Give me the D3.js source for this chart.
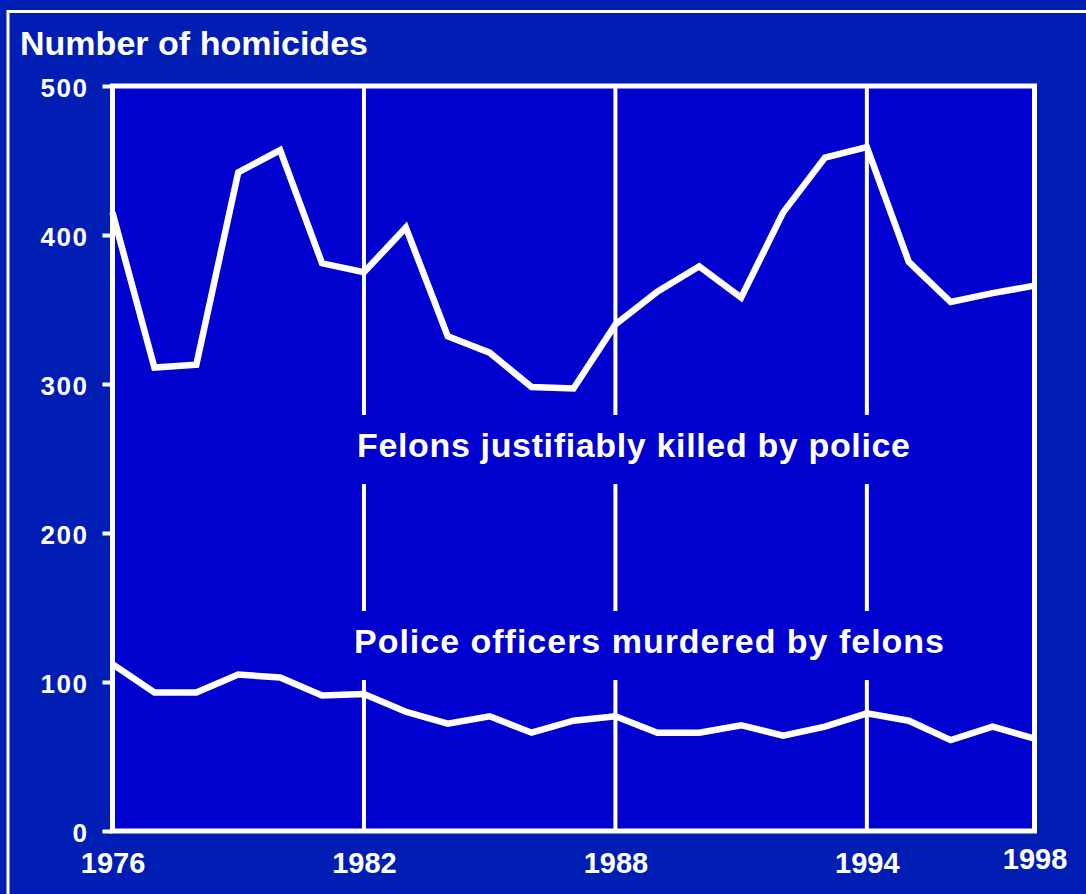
<!DOCTYPE html>
<html>
<head>
<meta charset="utf-8">
<script src="https://cdn.jsdelivr.net/npm/d3@7"></script>
<style>
  html, body { margin: 0; padding: 0; background: #001EB4; overflow: hidden; }
  svg { display: block; }
  text { font-family: "Liberation Sans", Arial, sans-serif; font-weight: bold; fill: #fff; }
</style>
</head>
<body>
<svg id="chart" width="1086" height="894"></svg>
<script>
var years = d3.range(1976, 1999);
var felonsKilled = [415, 311, 313, 442, 457, 381, 375, 405, 332, 321, 298, 297,
                    340, 362, 379, 358, 415, 452, 459, 382, 355, 361, 366];
var officersMurdered = [112, 93, 93, 105, 103, 91, 92, 80, 72, 77, 66, 74,
                        77, 66, 66, 71, 64, 70, 79, 74, 61, 70, 62];
var yearTicks = [1976, 1982, 1988, 1994, 1998];
var gridYears = [1982, 1988, 1994];
var valueTicks = [0, 100, 200, 300, 400, 500];
var seriesLabels = ["Felons justifiably killed by police", "Police officers murdered by felons"];

var outerBlue = "#001EB4", innerBlue = "#0000CF";

var svg = d3.select("#chart");

// outer white frame (runs off the right / bottom edge)
svg.append("rect")
	.attr("x", 8).attr("y", 11.5)
	.attr("width", 1200).attr("height", 1000)
	.attr("fill", "none").attr("stroke", "#fff").attr("stroke-width", 3);

svg.append("text")
	.attr("x", 20).attr("y", 55)
	.attr("textLength", 348)
	.attr("lengthAdjust", "spacing")
	.style("font-size", "34px")
	.text("Number of homicides");

var x = d3.scaleLinear().domain([1976, 1998]).range([112.5, 1034.5]);
var y = d3.scaleLinear().domain([0, 500]).range([831, 86]);

// plot area
svg.append("rect")
	.attr("x", x(1976)).attr("y", y(500))
	.attr("width", x(1998) - x(1976)).attr("height", y(0) - y(500))
	.attr("fill", innerBlue);

// vertical grid lines
svg.append("g").selectAll("line")
	.data(gridYears).enter().append("line")
	.attr("x1", function (d) { return x(d); })
	.attr("x2", function (d) { return x(d); })
	.attr("y1", y(500)).attr("y2", y(0))
	.attr("stroke", "#fff").attr("stroke-width", 4);

// series labels with a blue box that cuts the grid lines
var labelPos = [{ x: 357, y: 457, w: 553 }, { x: 354, y: 653, w: 590 }];
var labels = svg.append("g").selectAll("g")
	.data(seriesLabels).enter().append("g");
labels.append("rect")
	.attr("x", function (d, i) { return labelPos[i].x - 6; })
	.attr("y", function (d, i) { return labelPos[i].y - 42; })
	.attr("width", function (d, i) { return labelPos[i].w + 12; })
	.attr("height", 69)
	.attr("fill", innerBlue);
labels.append("text")
	.attr("x", function (d, i) { return labelPos[i].x; })
	.attr("y", function (d, i) { return labelPos[i].y; })
	.attr("textLength", function (d, i) { return labelPos[i].w; })
	.attr("lengthAdjust", "spacing")
	.style("font-size", "34px")
	.text(function (d) { return d; });

// data lines
var line = d3.line()
	.x(function (d) { return x(d[0]); })
	.y(function (d) { return y(d[1]); });

[felonsKilled, officersMurdered].forEach(function (series) {
	svg.append("path")
		.datum(d3.zip(years, series))
		.attr("d", line)
		.attr("fill", "none")
		.attr("stroke", "#fff")
		.attr("stroke-width", 6.5)
		.attr("stroke-linejoin", "miter");
});

// plot frame
svg.append("rect")
	.attr("x", x(1976)).attr("y", y(500))
	.attr("width", x(1998) - x(1976)).attr("height", y(0) - y(500))
	.attr("fill", "none").attr("stroke", "#fff").attr("stroke-width", 5);

// y axis
var yAxis = svg.append("g")
	.attr("transform", "translate(" + x(1976) + ",0)")
	.call(d3.axisLeft(y).tickValues(valueTicks).tickSize(10).tickPadding(14));
yAxis.select(".domain").remove();
yAxis.selectAll(".tick line").attr("stroke", "#fff").attr("stroke-width", 4);
yAxis.selectAll(".tick text")
	.attr("dy", "10px")
	.attr("fill", "#fff")
	.style("font-size", "26px")
	.style("letter-spacing", "1.5px")
	.style("font-family", "'Liberation Sans', Arial, sans-serif");

// x axis
var xAxis = svg.append("g")
	.attr("transform", "translate(0," + y(0) + ")")
	.call(d3.axisBottom(x).tickValues(yearTicks).tickFormat(d3.format("d")).tickSize(0).tickPadding(0));
xAxis.select(".domain").remove();
xAxis.selectAll(".tick text")
	.attr("y", function (d) { return d === 1998 ? 38 : 42; })
	.attr("dy", 0)
	.attr("fill", "#fff")
	.style("font-size", "29px")
	.style("font-family", "'Liberation Sans', Arial, sans-serif");
</script>
</body>
</html>
